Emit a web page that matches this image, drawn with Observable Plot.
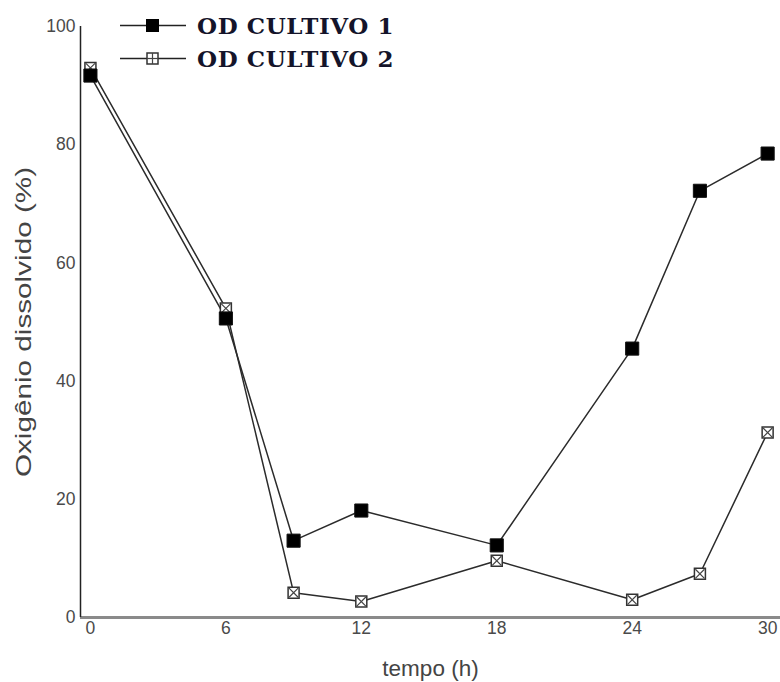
<!DOCTYPE html>
<html>
<head>
<meta charset="utf-8">
<script src="https://cdn.jsdelivr.net/npm/d3@7"></script>
<script src="https://cdn.jsdelivr.net/npm/@observablehq/plot@0.6"></script>
<style>
  body { margin: 0; background: #fff; }
  #wrap { position: relative; width: 780px; height: 682px; }
  #wrap g[aria-label="x-axis label"] text,
  #wrap g[aria-label="y-axis label"] text { font-size: 22.5px; fill: #444; }
  #legend { position: absolute; left: 118px; top: 9px; font-family: "DejaVu Serif", serif; font-weight: bold; font-size: 23px; letter-spacing: 0.6px; color: #14142a; }
  #legend .row { display: flex; align-items: center; height: 33px; }
  #legend svg { margin-right: 9px; }
</style>
</head>
<body>
<div id="wrap"><div id="legend"></div></div>
<script>
// Dissolved oxygen over time for two cultures
const tempo = [0, 6, 9, 12, 18, 24, 27, 30];
const cultivo1 = [91.7, 50.6, 13.0, 18.1, 12.2, 45.5, 72.2, 78.5];
const cultivo2 = [93.0, 52.3, 4.2, 2.7, 9.6, 3.0, 7.4, 31.3];
const seriesNames = ["OD CULTIVO 1", "OD CULTIVO 2"];
const xTicks = [0, 6, 12, 18, 24, 30];
const yTicks = [0, 20, 40, 60, 80, 100];

const rows1 = tempo.map((t, i) => ({t, v: cultivo1[i]}));
const rows2 = tempo.map((t, i) => ({t, v: cultivo2[i]}));

const ink = "#2b2b2b";
const axisGray = "#4a4a4a";

const chart = Plot.plot({
  width: 780,
  height: 682,
  marginLeft: 80,
  marginRight: 0,
  marginTop: 26,
  marginBottom: 65,
  style: {fontFamily: "'Liberation Sans', Arial, sans-serif", fontSize: "17.5px", color: axisGray, background: "#fff"},
  x: {domain: [-0.44, 30.57]},
  y: {domain: [0, 100]},
  marks: [
    Plot.axisX({ticks: xTicks, tickSize: 0, tickPadding: 4, label: "tempo (h)", labelAnchor: "center", labelOffset: 58, labelArrow: "none", fontSize: 17.5}),
    Plot.axisY({ticks: yTicks, tickSize: 0, tickPadding: 5, label: "Oxigênio dissolvido (%)", labelAnchor: "center", labelOffset: 65, labelArrow: "none", fontSize: 17.5}),
    Plot.ruleY([0], {stroke: "#8a8a8a", strokeWidth: 3}),
    Plot.ruleX([-0.44], {y1: 0, y2: 100, stroke: "#222", strokeWidth: 1.5}),
    Plot.line(rows2, {x: "t", y: "v", stroke: ink, strokeWidth: 1.5}),
    Plot.line(rows1, {x: "t", y: "v", stroke: ink, strokeWidth: 1.5}),
    Plot.dot(rows2, {x: "t", y: "v", symbol: "square", r: 6.2, fill: "#fff", stroke: "#333", strokeWidth: 1.5}),
    Plot.dot(rows2, {x: "t", y: "v", symbol: "times", r: 4.2, stroke: "#444", strokeWidth: 1.2}),
    Plot.dot(rows1, {x: "t", y: "v", symbol: "square", r: 7.4, fill: "#000", stroke: "#111", strokeWidth: 1})
  ]
});
const wrap = document.getElementById("wrap");
wrap.insertBefore(chart, wrap.firstChild);

// The vertical axis title is set in a wide face: stretch it along its reading direction
const yLabel = chart.querySelector('g[aria-label="y-axis label"]');
if (yLabel) {
  const svgBox = chart.getBoundingClientRect();
  const box = yLabel.getBoundingClientRect();
  const cy = box.top - svgBox.top + box.height / 2;
  const holder = document.createElementNS("http://www.w3.org/2000/svg", "g");
  holder.setAttribute("transform", `translate(0,${cy}) scale(1,1.32) translate(0,${-cy})`);
  yLabel.parentNode.insertBefore(holder, yLabel);
  holder.appendChild(yLabel);
}

// Legend: line + marker key followed by series name
const legend = document.getElementById("legend");
seriesNames.forEach((name, i) => {
  const row = document.createElement("div");
  row.className = "row";
  const key = i === 0
    ? `<rect x="28" y="5" width="13" height="13" fill="#000"/>`
    : `<rect x="29" y="6" width="11" height="11" fill="#fff" stroke="#333" stroke-width="1.5"/>
       <line x1="34.5" y1="6" x2="34.5" y2="17" stroke="#444" stroke-width="1.2"/>
       <line x1="29" y1="11.5" x2="40" y2="11.5" stroke="#444" stroke-width="1.2"/>`;
  row.innerHTML = `<svg width="70" height="23" viewBox="0 0 70 23">
      <line x1="2" y1="11.5" x2="68" y2="11.5" stroke="#222" stroke-width="1.6"/>${key}</svg><span>${name}</span>`;
  legend.appendChild(row);
});
</script>
</body>
</html>
